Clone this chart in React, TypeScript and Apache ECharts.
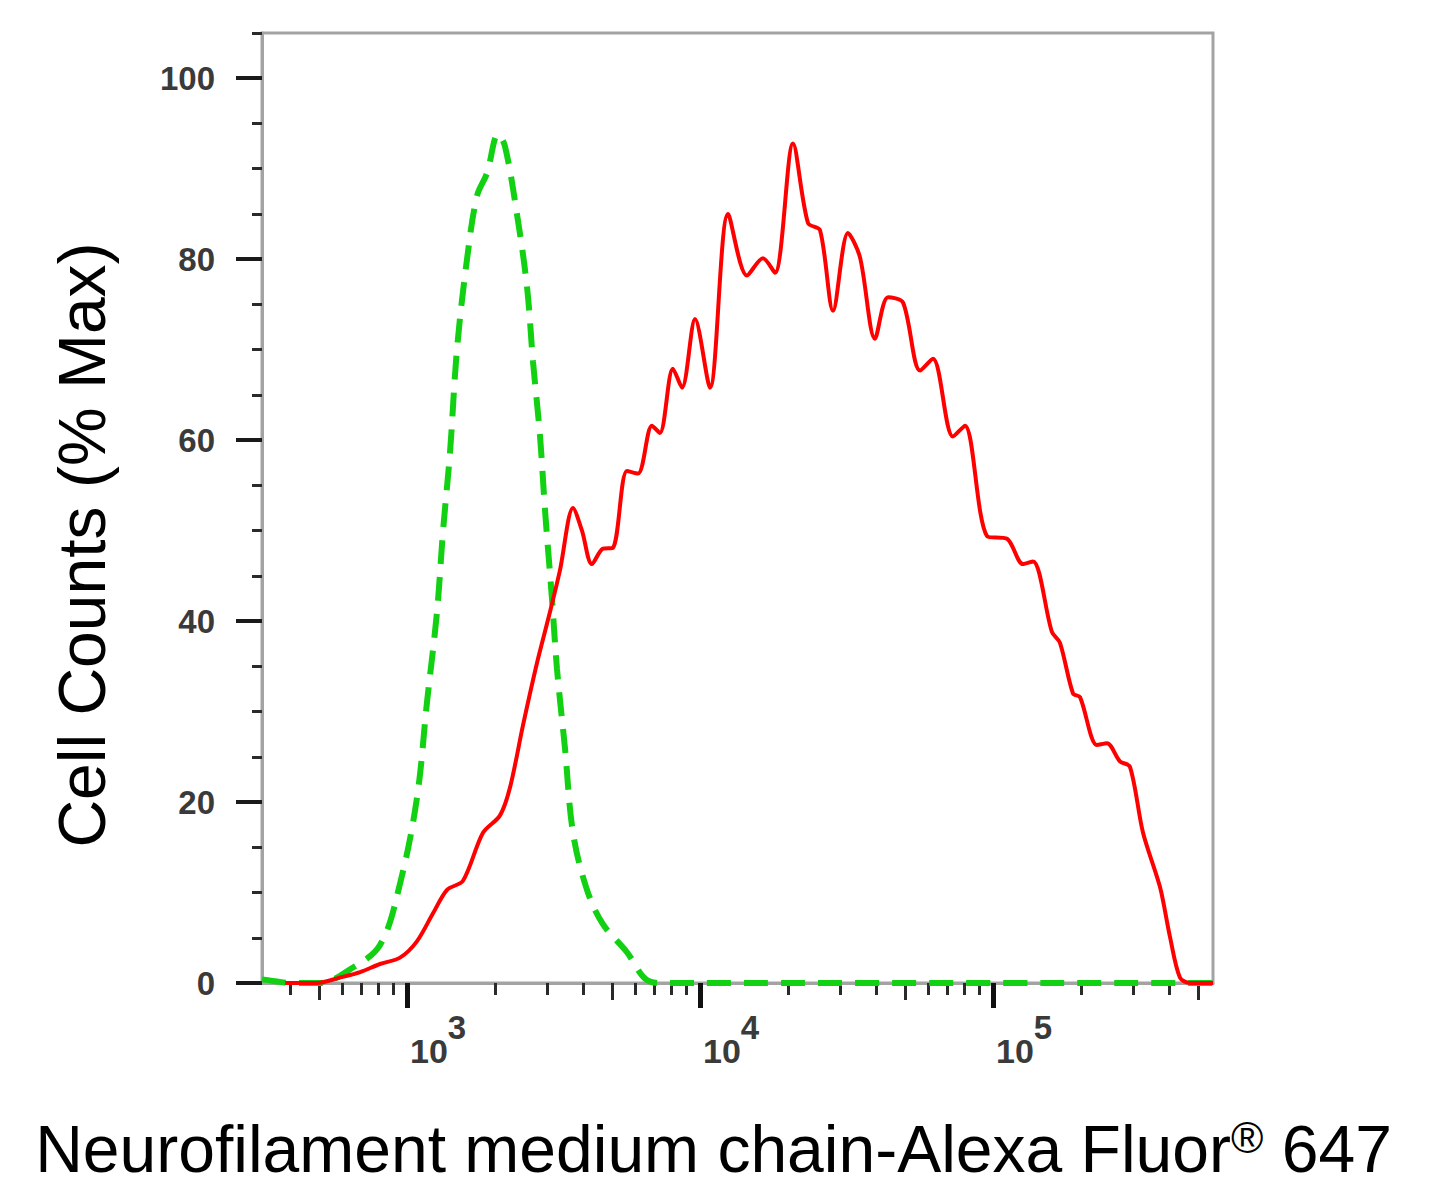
import React, { useEffect, useRef } from 'react';
import * as echarts from 'echarts';

// 同型对照（绿色虚线）：荧光强度 与 细胞计数(% Max)
const isoIntensity = [320, 354, 399, 505, 638, 809, 947, 1081, 1170, 1266, 1327, 1402, 1481, 1603, 1734, 1875, 2046, 2159, 2373, 2569, 2692, 2844, 2958, 3126, 3251, 3460, 3687, 4115, 4665, 5634, 6490, 7295, 563600];
const isoCounts = [0.4, 0.2, 0, 0, 1.5, 4.2, 11, 20.4, 31, 41, 49.9, 58.6, 70, 80, 87, 89.5, 93.8, 92.5, 85, 76.9, 68.7, 60.5, 52.3, 42.4, 34.7, 26, 16.6, 10.3, 6.5, 3.4, 0.5, 0, 0];

// 样本（红色实线）
const sampleIntensity = [384, 493, 590, 692, 809, 947, 1081, 1227, 1370, 1553, 1817, 2075, 2247, 2489, 2779, 3076, 3327, 3687, 3956, 4277, 4665, 5046, 5634, 6142, 6855, 7295, 8084, 8684, 9620, 10820, 12470, 14470, 16400, 18030, 20770, 23370, 25690, 28450, 32000, 35170, 39550, 43830, 49330, 56370, 62400, 72990, 80200, 95450, 111700, 126600, 137000, 158900, 169300, 187600, 198200, 226500, 245000, 271200, 293500, 325200, 371600, 401900, 434600, 470100, 563600];
const sampleCounts = [0, 0, 0.6, 1.2, 2.1, 2.8, 4.6, 7.7, 10.3, 11.3, 16.6, 18.5, 21.6, 28.5, 35.4, 41, 45.6, 52.5, 50, 46.3, 48, 48.1, 56.6, 56.3, 61.6, 60.8, 67.9, 65.8, 73.4, 65.8, 85, 78.2, 80.1, 78.5, 92.8, 84, 83.2, 74.3, 82.9, 80.2, 71.2, 75.8, 75.2, 67.7, 69, 60.4, 61.6, 49.4, 49.1, 46.3, 46.6, 38.8, 37.6, 32, 31.6, 26.3, 26.5, 24.5, 23.9, 16.6, 10.6, 5.1, 0.6, 0, 0];

// 坐标轴刻度
const xRange = [320, 563600];
const xMajorTicks = [1000, 10000, 100000];
const xMidTicks = [500, 5000, 50000, 500000];
const xMinorTicks = [400, 600, 700, 800, 900, 2000, 3000, 4000, 6000, 7000, 8000, 9000, 20000, 30000, 40000, 60000, 70000, 80000, 90000, 200000, 300000, 400000];
const yMajorTicks = [0, 20, 40, 60, 80, 100];
const yRange = [0, 105];

const FONT = "'Liberation Sans', Arial, Helvetica, sans-serif";
const AXIS_GRAY = '#a3a3a3';
const TICK_DARK = '#2a2a2a';

const lg = (v: number) => Math.log10(v);

const App: React.FC = () => {
  const chartRef = useRef<HTMLDivElement>(null);

  useEffect(() => {
    if (!chartRef.current) return;
    const chart = echarts.init(chartRef.current, undefined, { renderer: 'svg' });

    const xMin = lg(xRange[0]);
    const xMax = lg(xRange[1]);

    const baseX = {
      type: 'value',
      min: xMin,
      max: xMax,
      position: 'bottom',
      splitLine: { show: false },
      axisLabel: { show: false },
      axisLine: { show: false, onZero: false },
    };

    const baseY = {
      type: 'value',
      min: yRange[0],
      max: yRange[1],
      position: 'left',
      splitLine: { show: false },
      axisLabel: { show: false },
      axisLine: { show: false, onZero: false },
    };

    const option = {
      animation: false,
      backgroundColor: '#ffffff',
      grid: {
        left: 262,
        top: 33,
        width: 951,
        height: 950,
        show: true,
        borderColor: AXIS_GRAY,
        borderWidth: 3,
        containLabel: false,
      },
      xAxis: [
        {
          ...baseX,
          axisLine: { show: true, onZero: false, lineStyle: { color: AXIS_GRAY, width: 3 } },
          axisTick: {
            show: true,
            customValues: xMinorTicks.map(lg),
            length: 12,
            lineStyle: { color: TICK_DARK, width: 3 },
          },
          name: 'Neurofilament medium chain-Alexa Fluor{r|®} 647',
          nameLocation: 'middle',
          nameGap: 132,
          nameTextStyle: {
            fontFamily: FONT,
            fontSize: 66,
            color: '#000',
            padding: [0, 48, 0, 0],
            rich: {
              r: { fontFamily: FONT, fontSize: 44, color: '#000', verticalAlign: 'bottom', padding: [0, 0, 24, 0] },
            },
          },
        },
        {
          ...baseX,
          axisTick: {
            show: true,
            customValues: xMidTicks.map(lg),
            length: 17,
            lineStyle: { color: TICK_DARK, width: 3 },
          },
        },
        {
          ...baseX,
          axisTick: {
            show: true,
            customValues: xMajorTicks.map(lg),
            length: 25,
            lineStyle: { color: '#111', width: 5 },
          },
          axisLabel: {
            show: true,
            customValues: xMajorTicks.map(lg),
            align: 'left',
            margin: 28,
            padding: [0, 0, 0, 3],
            formatter: (v: number) => `{b|10}{s|${Math.round(v)}}`,
            rich: {
              b: { fontFamily: FONT, fontSize: 34, fontWeight: 'bold', color: '#3a3a3a', verticalAlign: 'bottom' },
              s: { fontFamily: FONT, fontSize: 33, fontWeight: 'bold', color: '#3a3a3a', verticalAlign: 'bottom', padding: [0, 0, 24, 0] },
            },
          },
        },
      ],
      yAxis: [
        {
          ...baseY,
          interval: 5,
          axisLine: { show: true, onZero: false, lineStyle: { color: AXIS_GRAY, width: 3 } },
          axisTick: { show: true, length: 10, lineStyle: { color: TICK_DARK, width: 3 } },
          name: 'Cell Counts (% Max)',
          nameLocation: 'middle',
          nameGap: 147,
          nameTextStyle: {
            fontFamily: FONT,
            fontSize: 66,
            color: '#000',
            padding: [0, 74, 0, 0],
          },
        },
        {
          ...baseY,
          interval: 20,
          axisTick: {
            show: true,
            customValues: yMajorTicks,
            length: 26,
            lineStyle: { color: '#1a1a1a', width: 4 },
          },
          axisLabel: {
            show: true,
            customValues: yMajorTicks,
            margin: 47,
            fontFamily: FONT,
            fontSize: 33,
            fontWeight: 'bold',
            color: '#3a3a3a',
          },
        },
      ],
      series: [
        {
          name: 'Isotype',
          type: 'line',
          xAxisIndex: 0,
          yAxisIndex: 0,
          showSymbol: false,
          smooth: 0.35,
          data: isoIntensity.map((x, i) => [lg(x), isoCounts[i]]),
          lineStyle: { color: '#12d012', width: 6, type: [24, 13] },
          z: 2,
        },
        {
          name: 'Sample',
          type: 'line',
          xAxisIndex: 0,
          yAxisIndex: 0,
          showSymbol: false,
          smooth: 0.3,
          data: sampleIntensity.map((x, i) => [lg(x), sampleCounts[i]]),
          lineStyle: { color: '#ff0000', width: 4 },
          z: 3,
        },
      ],
    };

    chart.setOption(option as any);

    const handleResize = () => chart.resize();
    window.addEventListener('resize', handleResize);
    return () => {
      window.removeEventListener('resize', handleResize);
      chart.dispose();
    };
  }, []);

  return (
    <div
      ref={chartRef}
      style={{ position: 'absolute', left: 0, top: 0, width: 1456, height: 1197, background: '#fff' }}
    />
  );
};

export default App;
